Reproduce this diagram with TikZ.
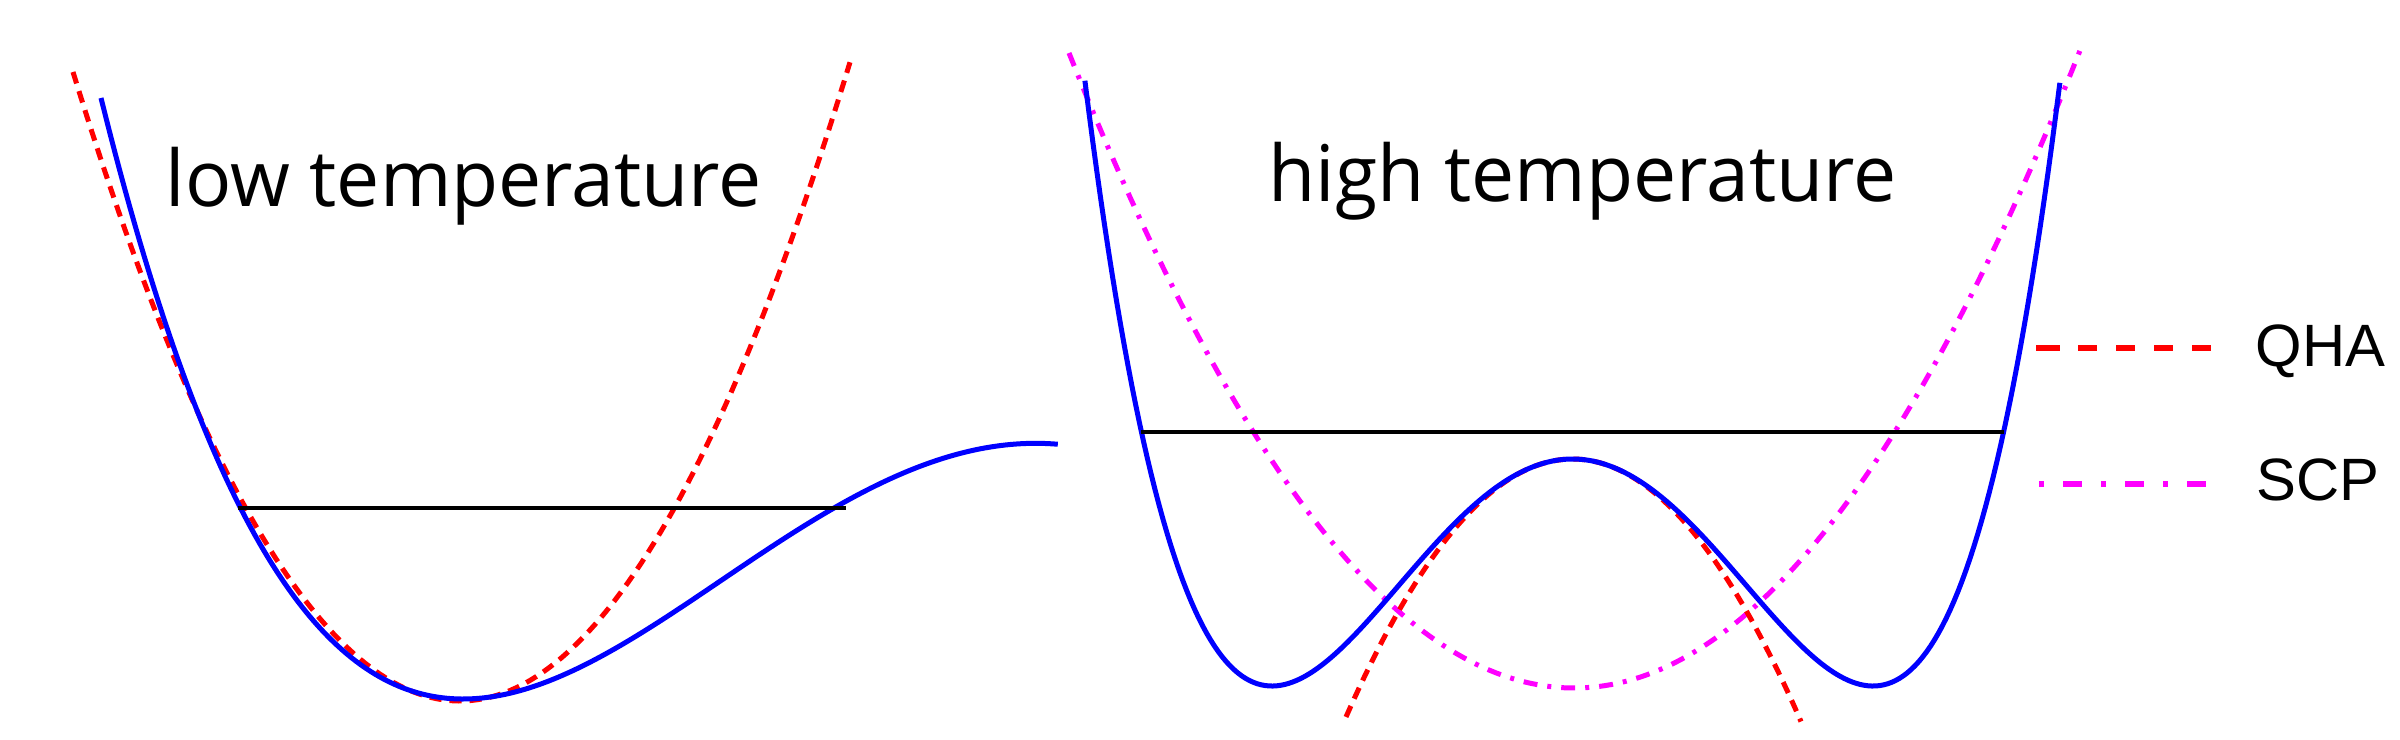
\documentclass[tikz,border=0pt]{standalone}
\usepackage{fontspec}
\setmainfont{Open Sans}
\newfontfamily\legfont{Liberation Sans}
\definecolor{pblue}{RGB}{0,0,255}
\definecolor{pred}{RGB}{255,0,0}
\definecolor{pmag}{RGB}{255,0,255}
\begin{document}
\begin{tikzpicture}[x=0.01cm,y=-0.01cm,
  pot/.style={pblue, line width=0.05cm, line join=round},
  qha/.style={pred, line width=0.05cm, dash pattern=on 0.12cm off 0.08cm},
  scp/.style={pmag, line width=0.05cm, dash pattern=on 0.14cm off 0.10cm on 0.04cm off 0.10cm},
  level/.style={black, line width=0.04cm},
  title/.style={anchor=base west, inner sep=0pt, xscale=0.985, font=\fontsize{22.2pt}{26pt}\selectfont},
  legtext/.style={anchor=base west, inner sep=0pt, font=\legfont\fontsize{17pt}{20pt}\selectfont},
  legqha/.style={pred, line width=0.068cm, dash pattern=on 0.24cm off 0.18cm on 0.19cm off 0.19cm on 0.19cm off 0.19cm on 0.19cm off 0.19cm on 0.19cm off 0.19cm},
  legscp/.style={pmag, line width=0.068cm, dash pattern=on 0.19cm off 0.19cm on 0.05cm off 0.19cm, dash phase=0.35cm}
]
\path[use as bounding box] (0,0) rectangle (2400,739);

% ---------- low temperature ----------
\node[title] (lowt) at (165,206) {low temperature};
\draw[qha] plot[domain=-3.87:3.90, samples=120, variable=\w] ({460+100*\w},{701-42*\w*\w});
\draw[pot] plot[domain=-3.62:5.95, samples=200, variable=\w] ({463+100*\w},{699-(28.13*\w*\w-4.377*\w*\w*\w+0.1443*\w*\w*\w*\w)});
\coordinate (la) at (238,508);
\coordinate (lb) at (846,508);
\draw[level] (la) -- (lb);

% ---------- high temperature ----------
\node[title] (hight) at (1268,201) {high temperature};
\draw[scp] plot[domain=-5.05:5.06, samples=150, variable=\w] ({1574+100*\w},{688-24.9*\w*\w});
\draw[qha] plot[domain=-2.265:2.285, samples=100, variable=\w] ({1572.5+100*\w},{459+50.28*\w*\w});
\draw[pot] plot[domain=-4.876:4.876, samples=250, variable=\w] ({1572.5+100*\w},{459+50.28*\w*\w-2.784*\w*\w*\w*\w});
\coordinate (ha) at (1141,432);
\coordinate (hb) at (2004,432);
\draw[level] (ha) -- (hb);

% ---------- legend ----------
\coordinate (q1) at (2036,348);
\coordinate (q2) at (2211,348);
\draw[legqha] (q1) -- (q2);
\node[legtext] (qhatext) at (2255,366) {QHA};
\coordinate (s1) at (2036,484);
\coordinate (s2) at (2206,484);
\draw[legscp] (s1) -- (s2);
\node[legtext] (scptext) at (2256,500) {SCP};
\end{tikzpicture}
\end{document}
